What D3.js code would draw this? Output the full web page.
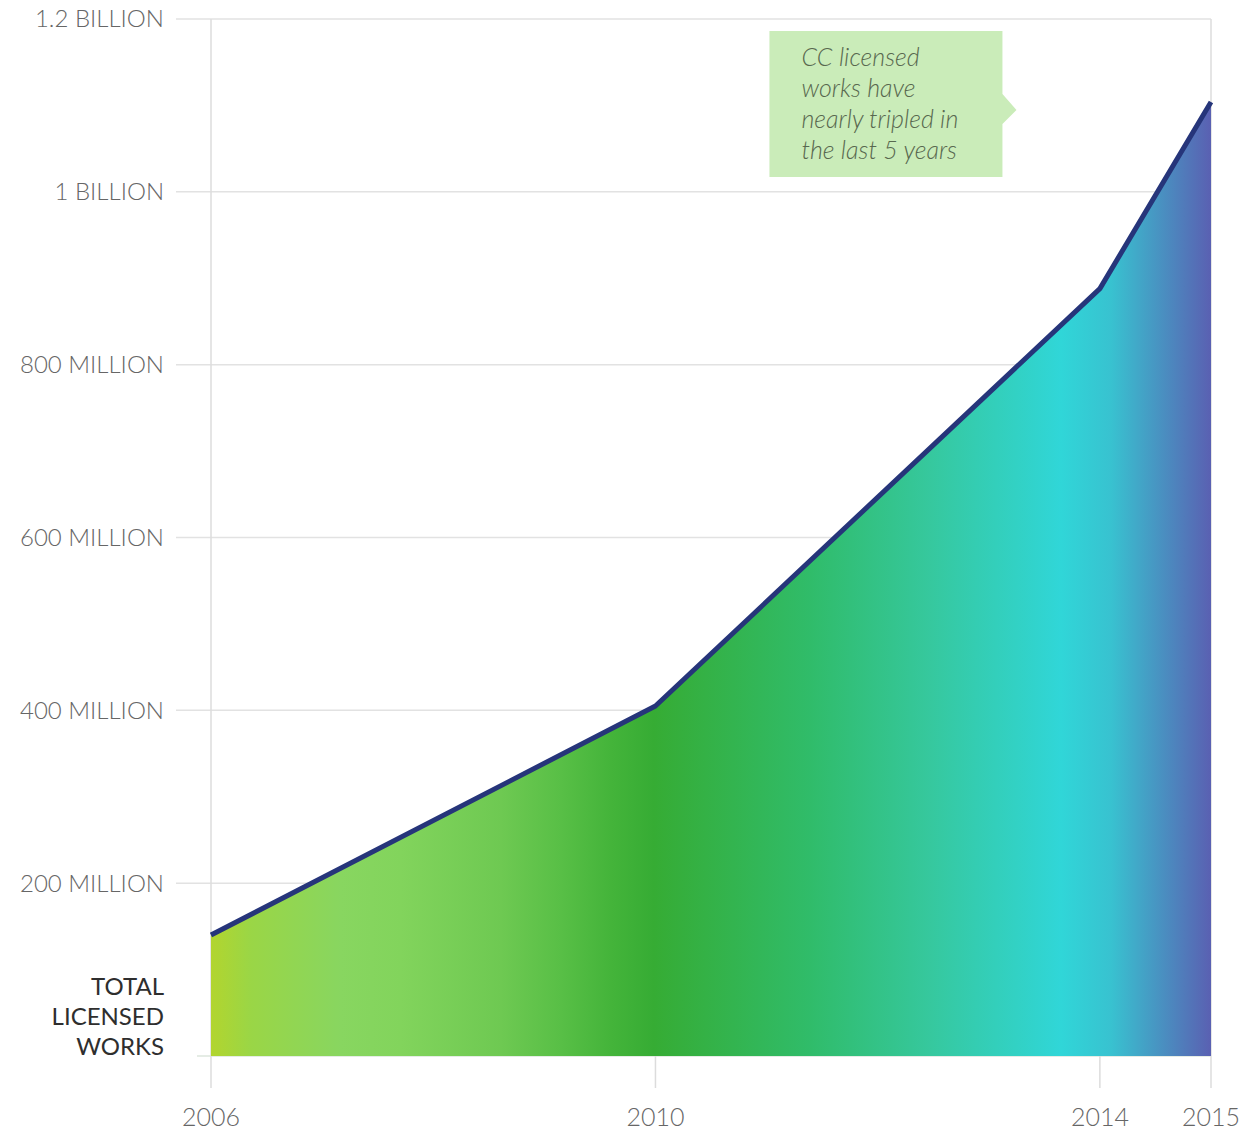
<!DOCTYPE html>
<html>
<head>
<meta charset="utf-8">
<script src="https://cdn.jsdelivr.net/npm/d3@7"></script>
<style>
  body { margin: 0; background: #fff; }
  text { font-family: Lato, "Open Sans", sans-serif; }
</style>
</head>
<body>
<div id="chart"></div>
<script>
// data
const years = [2006, 2010, 2014, 2015]
const works = [140e6, 405e6, 888e6, 1104e6]
const yTicks = [200e6, 400e6, 600e6, 800e6, 1000e6, 1200e6]
const yTickLabels = ["200 MILLION", "400 MILLION", "600 MILLION", "800 MILLION", "1 BILLION", "1.2 BILLION"]
const axisTitle = ["TOTAL", "LICENSED", "WORKS"]
const noteLines = ["CC licensed", "works have", "nearly tripled in", "the last 5 years"]

const W = 1246, H = 1130
const margin = {top: 19, right: 35, bottom: 74, left: 211}
const width = W - margin.left - margin.right
const height = H - margin.top - margin.bottom

const svg = d3.select("#chart").append("svg")
    .attr("width", W)
    .attr("height", H)

const g = svg.append("g")
    .attr("transform", `translate(${margin.left},${margin.top})`)

const x = d3.scaleLinear()
  .domain([2006, 2015])
  .range([0, width])

const y = d3.scaleLinear()
  .domain([0, 1200e6])
  .range([height, 0])

const data = years.map((yr, i) => ({year: yr, value: works[i]}))

// gradient across the area
const grad = svg.append("defs").append("linearGradient")
    .attr("id", "areaGrad")
    .attr("gradientUnits", "userSpaceOnUse")
    .attr("x1", x(2006)).attr("x2", x(2015))
    .attr("y1", 0).attr("y2", 0)
const stops = [
  [0, "#b2d52e"], [0.04, "#9ad646"], [0.13, "#88d660"], [0.19, "#82d45c"],
  [0.29, "#6ec952"], [0.35, "#58bf46"], [0.40, "#44b43a"], [0.443, "#36ac34"],
  [0.6, "#30bc6a"], [0.72, "#36c89e"], [0.85, "#30d6d8"], [0.9, "#38c2d0"],
  [1, "#5a60b2"]
]
stops.forEach(s => grad.append("stop").attr("offset", s[0]).attr("stop-color", s[1]))

// gridlines
g.selectAll(".hgrid")
  .data(yTicks)
  .enter().append("line")
    .attr("x1", -35).attr("x2", width)
    .attr("y1", d => y(d)).attr("y2", d => y(d))
    .attr("stroke", "#e2e2e2").attr("stroke-width", 1.5)

g.append("line")
    .attr("x1", -14).attr("x2", width)
    .attr("y1", y(0)).attr("y2", y(0))
    .attr("stroke", "#dde6dd").attr("stroke-width", 1.5)

g.selectAll(".vgrid")
  .data(years)
  .enter().append("line")
    .attr("x1", d => x(d)).attr("x2", d => x(d))
    .attr("y1", d => d === 2006 || d === 2015 ? y(1200e6) : y(0))
    .attr("y2", y(0) + 32)
    .attr("stroke", "#dcdcdc").attr("stroke-width", 1.5)

// area + line
const area = d3.area()
  .x(d => x(d.year))
  .y0(y(0))
  .y1(d => y(d.value))

g.append("path")
    .datum(data)
    .attr("d", area)
    .attr("fill", "url(#areaGrad)")

const line = d3.line()
  .x(d => x(d.year))
  .y(d => y(d.value))

g.append("path")
    .datum(data)
    .attr("d", line)
    .attr("fill", "none")
    .attr("stroke", "#26357a")
    .attr("stroke-width", 5)
    .attr("stroke-linejoin", "round")

// y labels
g.selectAll(".ylab")
  .data(yTicks)
  .enter().append("text")
    .attr("x", -47)
    .attr("y", (d, i) => y(d))
    .attr("dy", "0.35em")
    .attr("text-anchor", "end")
    .attr("font-size", 24)
    .attr("font-weight", 300)
    .attr("fill", "#666")
    .text((d, i) => yTickLabels[i])

g.selectAll(".ytitle")
  .data(axisTitle)
  .enter().append("text")
    .attr("x", -47)
    .attr("y", (d, i) => y(0) - 69 + i * 30)
    .attr("dy", "0.35em")
    .attr("text-anchor", "end")
    .attr("font-size", 24)
    .attr("fill", "#2e2e2e")
    .text(d => d)

// x labels
g.selectAll(".xlab")
  .data(years)
  .enter().append("text")
    .attr("x", d => x(d))
    .attr("y", y(0) + 61)
    .attr("dy", "0.35em")
    .attr("text-anchor", "middle")
    .attr("font-size", 25)
    .attr("font-weight", 300)
    .attr("fill", "#666")
    .text(d => d)

// callout note
const note = g.append("g")
    .attr("transform", `translate(${x(2010) + 114},${y(1200e6) + 12})`)
note.append("path")
    .attr("d", "M0,0 H233 V63 L247,79 L233,93 V146 H0 Z")
    .attr("fill", "#caecb9")
note.selectAll("text")
  .data(noteLines)
  .enter().append("text")
    .attr("x", 32)
    .attr("y", (d, i) => 26 + i * 31)
    .attr("dy", "0.35em")
    .attr("font-size", 25)
    .attr("font-style", "italic")
    .attr("font-weight", 300)
    .attr("fill", "#58684f")
    .text(d => d)
</script>
</body>
</html>
